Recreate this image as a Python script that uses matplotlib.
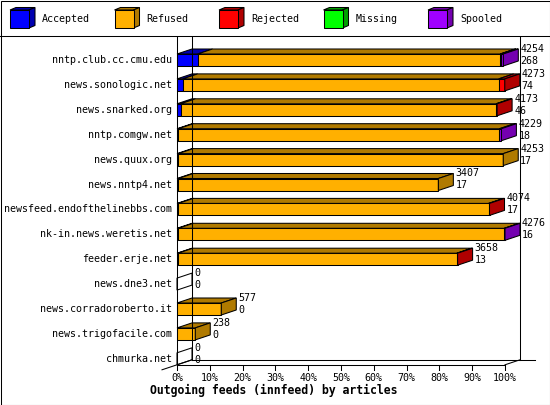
import matplotlib
matplotlib.use('Agg')
import matplotlib.pyplot as plt
from matplotlib.patches import Polygon, Rectangle

hosts = ['nntp.club.cc.cmu.edu', 'news.sonologic.net', 'news.snarked.org',
         'nntp.comgw.net', 'news.quux.org', 'news.nntp4.net',
         'newsfeed.endofthelinebbs.com', 'nk-in.news.weretis.net',
         'feeder.erje.net', 'news.dne3.net', 'news.corradoroberto.it',
         'news.trigofacile.com', 'chmurka.net']
totals = [4254, 4273, 4173, 4229, 4253, 3407, 4074, 4276, 3658, 0, 577, 238, 0]
accepted = [268, 74, 46, 18, 17, 17, 17, 16, 13, 0, 0, 0, 0]
rejected = [12, 80, 15, 0, 0, 0, 12, 0, 10, 0, 0, 0, 0]
missing = [0, 0, 0, 0, 0, 0, 0, 0, 0, 0, 0, 0, 0]
spooled = [30, 0, 0, 25, 0, 0, 0, 10, 0, 0, 0, 0, 0]
refused = [t - a - r - m - s for t, a, r, m, s in
           zip(totals, accepted, rejected, missing, spooled)]

series = ['Accepted', 'Refused', 'Rejected', 'Missing', 'Spooled']
front = ['#0000ff', '#ffb000', '#ff0000', '#00ff00', '#a000ff']
shade = ['#0000b0', '#b07a00', '#b00000', '#00a000', '#7400b0']
xticks = list(range(0, 101, 10))
title = 'Outgoing feeds (innfeed) by articles'

mono = 'DejaVu Sans Mono'
plt.rcParams['font.family'] = mono
LW = 0.75

fig = plt.figure(figsize=(5.5, 4.05), dpi=100)

# page-level overlay for frame and legend (pixel units)
lax = fig.add_axes([0, 0, 1, 1])
lax.set_xlim(0, 550)
lax.set_ylim(405, 0)
lax.axis('off')
lax.add_patch(Rectangle((0.5, 0.5), 549, 404, fill=False, lw=LW, ec='black'))
lax.plot([0, 550], [35.5, 35.5], color='black', lw=LW)
for i, name in enumerate(series):
    x0 = 10 + i * 104.5
    lax.add_patch(Polygon([(x0, 10), (x0 + 6, 7.5), (x0 + 25, 7.5), (x0 + 19, 10)],
                          fc=shade[i], ec='black', lw=LW))
    lax.add_patch(Polygon([(x0 + 19, 10), (x0 + 25, 7.5), (x0 + 25, 25.5), (x0 + 19, 28)],
                          fc=shade[i], ec='black', lw=LW))
    lax.add_patch(Rectangle((x0, 10), 19, 18, fc=front[i], ec='black', lw=LW))
    lax.text(x0 + 32, 19.5, name, fontsize=7.2, va='center', ha='left')

# chart axes: x in percent of largest feed, y in rows
PXX = 100 / 328.0     # data units per pixel along x
PXY = 1 / 24.9        # data units per pixel along y
DX = 15 * PXX
DY = 5 * PXY
H = 12 * PXY
floor = 12 + H / 2

ax = fig.add_axes([150 / 550, 1 - 375 / 405, 395 / 550, 339 / 405])
ax.set_xlim(-27 * PXX, 368 * PXX)
ax.set_ylim((375 - 60) * PXY, (36 - 60) * PXY)
ax.axis('off')

top_y = (36 - 60) * PXY
# walls and floor
ax.plot([0, 0], [top_y, floor], color='black', lw=LW)
ax.plot([DX, DX], [top_y, floor - DY], color='black', lw=LW)
ax.plot([100 + DX, 100 + DX], [top_y, floor - DY], color='black', lw=LW)
ax.plot([DX, 100 + DX + 15 * PXX], [floor - DY, floor - DY], color='black', lw=LW)
ax.plot([0, 100], [floor, floor], color='black', lw=LW)
ax.plot([100, 100 + DX], [floor, floor - DY], color='black', lw=LW)
ax.plot([-DX, DX], [floor + DY, floor - DY], color='black', lw=LW)
for t in xticks:
    ax.plot([t, t], [floor, floor + 5 * PXY], color='black', lw=LW)
    ax.text(t, floor + 13 * PXY, f'{t}%', fontsize=7.2, ha='center', va='center')

ax.text(-27 * PXX, floor + 26 * PXY, title, fontsize=8.3, fontweight='bold',
        ha='left', va='center')

vmax = max(totals)
for row, host in enumerate(hosts):
    vals = [accepted[row], refused[row], rejected[row], missing[row], spooled[row]]
    yt = row - H / 2
    yb = row + H / 2
    x = 0.0
    last = None
    for k, v in enumerate(vals):
        if v <= 0:
            continue
        w = v / vmax * 100
        ax.add_patch(Rectangle((x, yt), w, H, fc=front[k], ec='black', lw=LW))
        ax.add_patch(Polygon([(x, yt), (x + w, yt), (x + w + DX, yt - DY), (x + DX, yt - DY)],
                             fc=shade[k], ec='black', lw=LW))
        x += w
        last = k
    if last is None:
        ax.add_patch(Polygon([(0, yt), (DX, yt - DY), (DX, yb - DY), (0, yb)],
                             fill=False, ec='black', lw=LW))
    else:
        ax.add_patch(Polygon([(x, yt), (x + DX, yt - DY), (x + DX, yb - DY), (x, yb)],
                             fc=shade[last], ec='black', lw=LW))
    lx = x + DX + 2 * PXX
    ax.text(lx, row - 11 * PXY, str(totals[row]), fontsize=7.2, ha='left', va='center')
    ax.text(lx, row + 1 * PXY, str(accepted[row]), fontsize=7.2, ha='left', va='center')
    ax.text(-5 * PXX, row, host, fontsize=7.2, ha='right', va='center')

fig.savefig('out.png', dpi=100)
